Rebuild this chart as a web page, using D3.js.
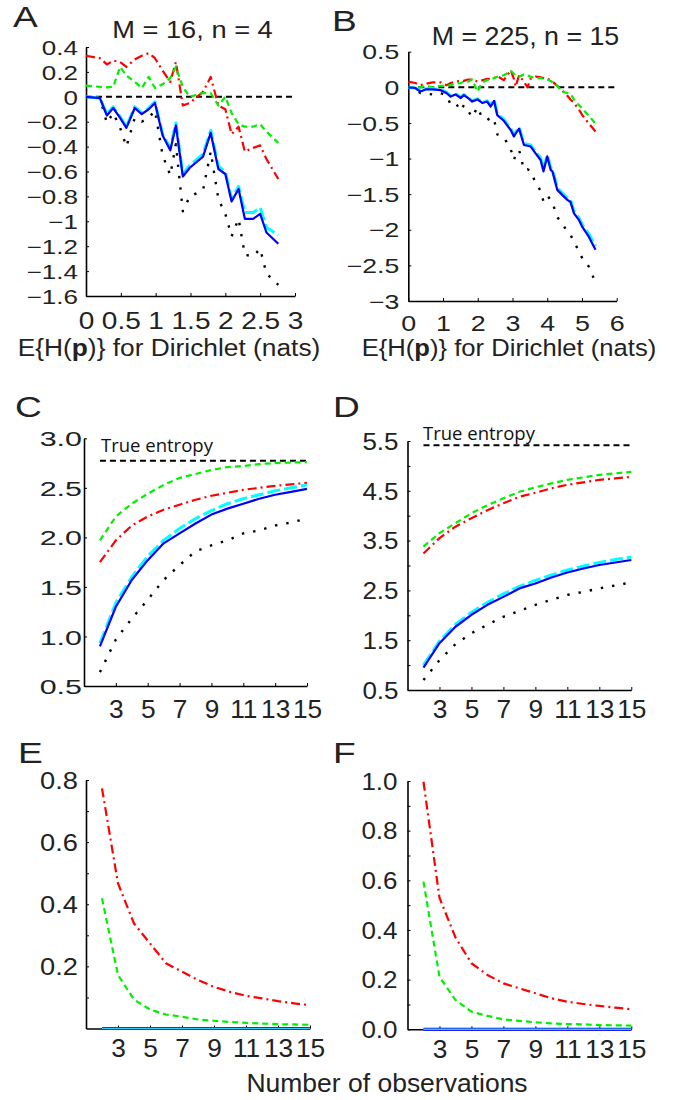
<!DOCTYPE html>
<html><head><meta charset="utf-8">
<script src="https://cdn.jsdelivr.net/npm/d3@7"></script>
<style>
body{margin:0;background:#fff}
svg{display:block}
text{font-family:"Liberation Sans",Arial,Helvetica,sans-serif;fill:#222}
</style>
</head><body>
<svg id="fig" width="688" height="1100"></svg>
<script>
// ---------------- DATA ----------------
// Panel A: M = 16, n = 4 (bias vs expected entropy of Dirichlet)
const xA     = [0, 0.2, 0.3, 0.39, 0.49, 0.58, 0.70, 0.80, 0.90, 0.99, 1.10, 1.21, 1.29, 1.39, 1.49, 1.68, 1.79, 1.90, 2.00, 2.09, 2.19, 2.28, 2.40, 2.50, 2.59, 2.76];
const aBlue  = [0, -0.01, -0.15, -0.09, -0.17, -0.25, -0.09, -0.14, -0.10, -0.05, -0.31, -0.43, -0.23, -0.64, -0.57, -0.48, -0.29, -0.58, -0.62, -0.84, -0.74, -0.98, -0.98, -0.94, -1.09, -1.18];
const aCyan  = [0, -0.01, -0.14, -0.08, -0.16, -0.24, -0.08, -0.13, -0.09, -0.04, -0.30, -0.41, -0.21, -0.62, -0.55, -0.46, -0.27, -0.56, -0.60, -0.82, -0.72, -0.93, -0.93, -0.89, -1.05, -1.11];
const aBlack = [0, -0.01, -0.21, -0.13, -0.25, -0.40, -0.17, -0.20, -0.17, -0.11, -0.47, -0.63, -0.38, -0.92, -0.80, -0.75, -0.44, -0.82, -0.94, -1.12, -0.98, -1.27, -1.28, -1.22, -1.42, -1.51];
const aRed   = [0.33, 0.31, 0.26, 0.29, 0.28, 0.24, 0.30, 0.33, 0.35, 0.31, 0.21, 0.12, 0.28, -0.07, -0.05, 0.04, 0.16, -0.07, -0.10, -0.30, -0.24, -0.44, -0.41, -0.39, -0.50, -0.66];
const aGreen = [0.09, 0.08, 0.075, 0.08, 0.24, 0.17, 0.12, 0.07, 0.16, 0.07, 0.10, 0.15, 0.24, 0.08, 0.0, 0.03, 0.03, -0.07, 0.0, -0.13, -0.22, -0.24, -0.24, -0.22, -0.28, -0.37];

// Panel B: M = 225, n = 15
const xB     = [0, 0.2, 0.35, 0.5, 0.7, 0.93, 1.1, 1.22, 1.36, 1.51, 1.6, 1.72, 1.84, 1.99, 2.13, 2.27, 2.37, 2.47, 2.56, 2.75, 2.95, 3.04, 3.09, 3.19, 3.33, 3.43, 3.52, 3.67, 3.81, 3.89, 4.0, 4.1, 4.15, 4.29, 4.43, 4.58, 4.67, 4.77, 4.91, 5.01, 5.2, 5.39];
const bBlue  = [0, -0.01, -0.06, -0.03, -0.03, -0.04, -0.08, -0.13, -0.10, -0.15, -0.11, -0.15, -0.20, -0.17, -0.22, -0.20, -0.27, -0.19, -0.39, -0.47, -0.60, -0.69, -0.65, -0.58, -0.81, -0.82, -0.83, -0.93, -1.02, -1.18, -0.97, -1.16, -1.18, -1.44, -1.51, -1.58, -1.61, -1.77, -1.86, -1.96, -2.10, -2.28];
const bCyan  = [0, -0.01, -0.05, -0.02, -0.02, -0.03, -0.07, -0.12, -0.09, -0.14, -0.10, -0.14, -0.19, -0.16, -0.21, -0.19, -0.25, -0.17, -0.37, -0.45, -0.58, -0.67, -0.63, -0.56, -0.79, -0.80, -0.81, -0.91, -0.99, -1.15, -0.95, -1.13, -1.15, -1.41, -1.48, -1.55, -1.58, -1.74, -1.83, -1.93, -2.06, -2.23];
const bBlack = [0, -0.04, -0.08, -0.09, -0.10, -0.08, -0.12, -0.24, -0.22, -0.33, -0.25, -0.33, -0.42, -0.28, -0.43, -0.43, -0.48, -0.45, -0.66, -0.70, -0.87, -1.02, -0.95, -0.88, -1.16, -1.15, -1.17, -1.35, -1.45, -1.60, -1.52, -1.58, -1.62, -1.82, -1.92, -2.02, -2.07, -2.17, -2.30, -2.40, -2.52, -2.74];
const bRed   = [0.08, 0.06, 0.03, 0.05, 0.07, 0.07, 0.03, 0.06, 0.08, 0.09, 0.09, 0.11, 0.11, 0.08, 0.10, 0.12, 0.12, 0.13, 0.16, 0.10, 0.24, 0.12, 0.01, 0.17, 0.08, 0.0, 0.12, 0.15, 0.14, 0.13, 0.12, 0.10, 0.08, 0.02, -0.04, -0.12, -0.17, -0.22, -0.31, -0.39, -0.51, -0.62];
const bGreen = [0.0, 0.0, 0.0, 0.02, 0.0, 0.02, 0.02, 0.03, 0.05, 0.06, 0.08, 0.08, 0.11, -0.06, 0.07, 0.10, 0.11, 0.13, 0.15, 0.17, 0.23, 0.19, 0.16, 0.15, 0.18, 0.17, 0.15, 0.13, 0.13, 0.12, 0.11, 0.09, 0.07, 0.02, -0.06, -0.08, -0.09, -0.17, -0.25, -0.30, -0.40, -0.51];

// Panels C-F: number of observations
const nObs   = [2, 3, 4, 5, 6, 7, 8, 9, 10, 11, 12, 13, 14, 15];
const cBlue  = [0.90, 1.30, 1.57, 1.77, 1.94, 2.04, 2.14, 2.23, 2.29, 2.34, 2.39, 2.43, 2.46, 2.49];
const cCyan  = [0.93, 1.34, 1.60, 1.81, 1.97, 2.09, 2.19, 2.27, 2.34, 2.39, 2.43, 2.47, 2.50, 2.53];
const cGreen = [1.97, 2.21, 2.34, 2.44, 2.53, 2.60, 2.64, 2.68, 2.71, 2.72, 2.74, 2.75, 2.755, 2.76];
const cRed   = [1.75, 1.97, 2.12, 2.21, 2.28, 2.33, 2.38, 2.42, 2.45, 2.48, 2.50, 2.52, 2.535, 2.55];
const cBlack = [0.64, 0.97, 1.18, 1.37, 1.57, 1.72, 1.86, 1.92, 1.97, 2.04, 2.07, 2.12, 2.15, 2.19];
const cTrue  = 2.7726;

const dBlue  = [0.95, 1.44, 1.77, 2.01, 2.21, 2.37, 2.54, 2.64, 2.76, 2.86, 2.94, 3.01, 3.06, 3.11];
const dCyan  = [1.00, 1.48, 1.82, 2.06, 2.26, 2.43, 2.58, 2.70, 2.81, 2.91, 2.99, 3.06, 3.12, 3.17];
const dGreen = [3.38, 3.65, 3.85, 4.05, 4.21, 4.35, 4.48, 4.57, 4.65, 4.72, 4.77, 4.82, 4.85, 4.88];
const dRed   = [3.24, 3.55, 3.78, 3.95, 4.11, 4.25, 4.38, 4.46, 4.55, 4.62, 4.67, 4.72, 4.75, 4.78];
const dBlack = [0.70, 1.10, 1.42, 1.64, 1.81, 1.97, 2.09, 2.21, 2.31, 2.41, 2.47, 2.54, 2.60, 2.66];
const dTrue  = 5.416;

const eRed   = [0.773, 0.467, 0.338, 0.274, 0.21, 0.183, 0.156, 0.134, 0.118, 0.105, 0.097, 0.088, 0.081, 0.075];
const eGreen = [0.419, 0.172, 0.093, 0.061, 0.045, 0.038, 0.029, 0.025, 0.021, 0.018, 0.016, 0.014, 0.013, 0.012];
const eBlue  = [0, 0, 0, 0, 0, 0, 0, 0, 0, 0, 0, 0, 0, 0];
const eCyan  = [0, 0, 0, 0, 0, 0, 0, 0, 0, 0, 0, 0, 0, 0];

const fRed   = [0.997, 0.53, 0.37, 0.266, 0.219, 0.185, 0.165, 0.145, 0.125, 0.111, 0.102, 0.094, 0.087, 0.081];
const fGreen = [0.595, 0.212, 0.118, 0.071, 0.054, 0.040, 0.034, 0.028, 0.024, 0.021, 0.020, 0.017, 0.016, 0.015];
const fBlue  = [0, 0, 0, 0, 0, 0, 0, 0, 0, 0, 0, 0, 0, 0];
const fCyan  = [0, 0, 0, 0, 0, 0, 0, 0, 0, 0, 0, 0, 0, 0];

// ticks
const ticksAx = [0, 0.5, 1, 1.5, 2, 2.5, 3];
const ticksAy = [-1.6, -1.4, -1.2, -1, -0.8, -0.6, -0.4, -0.2, 0, 0.2, 0.4];
const ticksBx = [0, 1, 2, 3, 4, 5, 6];
const ticksBy = [-3, -2.5, -2, -1.5, -1, -0.5, 0, 0.5];
const ticksObs = [3, 5, 7, 9, 11, 13, 15];
const ticksCy = [0.5, 1.0, 1.5, 2.0, 2.5, 3.0];
const ticksDy = [0.5, 1, 1.5, 2, 2.5, 3, 3.5, 4, 4.5, 5, 5.5];
const labelsDy = [0.5, 1.5, 2.5, 3.5, 4.5, 5.5];
const ticksEy = [0.1, 0.2, 0.3, 0.4, 0.5, 0.6, 0.7, 0.8];
const labelsEy = [0.2, 0.4, 0.6, 0.8];
const ticksFy = [0, 0.1, 0.2, 0.3, 0.4, 0.5, 0.6, 0.7, 0.8, 0.9, 1.0];
const labelsFy = [0, 0.2, 0.4, 0.6, 0.8, 1.0];

// ---------------- DRAW ----------------
const svg = d3.select('#fig');
const FONT = '"Liberation Sans",Arial,Helvetica,sans-serif';

const matFmt = v => v === 0 ? '0' : (v < 0 ? '\u2212' : '') + String(+Math.abs(v).toFixed(1));
const fix1 = v => v.toFixed(1);
const onlyIn = (arr, f) => v => arr.some(a => Math.abs(a - v) < 1e-9) ? f(v) : '';

const styles = {
  zero:  {stroke: '#000', width: 2, dash: '6,4'},
  black: {stroke: '#000', width: 2.4, dash: '2.4,9'},
  red:   {stroke: '#ff0000', width: 2.2, dash: '9,4,2,4'},
  green: {stroke: '#00f000', width: 2.2, dash: '6,4'},
  cyan:  {stroke: '#00ffff', width: 3, dash: '13,4'},
  blue:  {stroke: '#0000ff', width: 2.2, dash: null}
};

function sText(x, y, str, size, sx, anchor) {
  return svg.append('text')
    .attr('transform', `translate(${x},${y}) scale(${sx},1)`)
    .attr('font-size', size).attr('text-anchor', anchor || 'start').text(str);
}

function panel(o) {
  const g = svg.append('g');
  const x = d3.scaleLinear().domain(o.xDom).range(o.xRange);
  const y = d3.scaleLinear().domain(o.yDom).range(o.yRange);

  // axes (drawn first so that the curves sit on top)
  const ax = d3.axisBottom(x).tickValues(o.xTicks).tickFormat(o.xFmt)
    .tickSizeInner(-3).tickSizeOuter(0).tickPadding(0);
  const gx = g.append('g').attr('transform', `translate(0,${o.yRange[0]})`).call(ax);
  gx.select('.domain').attr('stroke', '#000').attr('stroke-width', 1.6);
  gx.selectAll('.tick line').attr('stroke', '#000').attr('stroke-width', 1);
  gx.selectAll('.tick text').attr('y', null).attr('dy', null)
    .attr('font-family', FONT).attr('font-size', o.xFont).attr('fill', '#222')
    .attr('transform', `translate(0,${o.xBase}) scale(${o.xSx},1)`);

  const ay = d3.axisLeft(y).tickValues(o.yTicks).tickFormat(o.yFmt)
    .tickSizeInner(-3).tickSizeOuter(0).tickPadding(0);
  const gy = g.append('g').attr('transform', `translate(${o.xRange[0]},0)`).call(ay);
  gy.select('.domain').attr('stroke', '#000').attr('stroke-width', 1.6);
  gy.selectAll('.tick line').attr('stroke', '#000').attr('stroke-width', 1);
  gy.selectAll('.tick text').attr('x', null).attr('dy', '0.36em')
    .attr('font-family', FONT).attr('font-size', o.yFont).attr('fill', '#222')
    .attr('transform', `translate(${-o.yGap},0) scale(${o.ySx},1)`);

  // series
  const line = d3.line().x(d => x(d[0])).y(d => y(d[1]));
  o.series.forEach(s => {
    const st = styles[s.style];
    g.append('path').datum(d3.zip(s.x, s.y))
      .attr('d', line).attr('fill', 'none')
      .attr('stroke', s.color || st.stroke).attr('stroke-width', s.width || st.width)
      .attr('stroke-dasharray', s.dash !== undefined ? s.dash : st.dash)
      .attr('stroke-linejoin', 'round');
  });
  return {x, y, g};
}

const sA = [
  {x: [0, 3], y: [0, 0], style: 'zero'},
  {x: xA, y: aBlack, style: 'black'},
  {x: xA, y: aRed, style: 'red'},
  {x: xA, y: aGreen, style: 'green'},
  {x: xA, y: aCyan, style: 'cyan'},
  {x: xA, y: aBlue, style: 'blue'}
];
panel({xDom: [0, 3], xRange: [86, 295], yDom: [-1.6, 0.4], yRange: [296, 47],
  xTicks: ticksAx, xFmt: matFmt, xFont: 23, xSx: 1.22, xBase: 33,
  yTicks: ticksAy, yFmt: matFmt, yFont: 20, ySx: 1.3, yGap: 8, series: sA});

const sB = [
  {x: [0, 6], y: [0, 0], style: 'zero'},
  {x: xB, y: bBlack, style: 'black'},
  {x: xB, y: bRed, style: 'red'},
  {x: xB, y: bGreen, style: 'green'},
  {x: xB, y: bCyan, style: 'cyan'},
  {x: xB, y: bBlue, style: 'blue'}
];
panel({xDom: [0, 6], xRange: [408.3, 616.7], yDom: [-3, 0.5], yRange: [301, 51.7],
  xTicks: ticksBx, xFmt: matFmt, xFont: 22, xSx: 1.22, xBase: 30,
  yTicks: ticksBy, yFmt: matFmt, yFont: 20, ySx: 1.33, yGap: 9, series: sB});

const sC = [
  {x: [2, 15], y: [cTrue, cTrue], style: 'zero'},
  {x: nObs, y: cBlack, style: 'black'},
  {x: nObs, y: cRed, style: 'red'},
  {x: nObs, y: cGreen, style: 'green'},
  {x: nObs, y: cCyan, style: 'cyan'},
  {x: nObs, y: cBlue, style: 'blue'}
];
panel({xDom: [1, 15], xRange: [84, 307], yDom: [0.5, 3], yRange: [686, 438.3],
  xTicks: ticksObs, xFmt: d3.format('d'), xFont: 25, xSx: 1.05, xBase: 32,
  yTicks: ticksCy, yFmt: fix1, yFont: 21, ySx: 1.45, yGap: 2, series: sC});

const sD = [
  {x: [2, 15], y: [dTrue, dTrue], style: 'zero'},
  {x: nObs, y: dBlack, style: 'black'},
  {x: nObs, y: dRed, style: 'red'},
  {x: nObs, y: dGreen, style: 'green'},
  {x: nObs, y: dCyan, style: 'cyan'},
  {x: nObs, y: dBlue, style: 'blue'}
];
panel({xDom: [1, 15], xRange: [407.5, 631.3], yDom: [0.5, 5.5], yRange: [690, 441],
  xTicks: ticksObs, xFmt: d3.format('d'), xFont: 25, xSx: 1.05, xBase: 28,
  yTicks: ticksDy, yFmt: onlyIn(labelsDy, fix1), yFont: 23, ySx: 1.13, yGap: 9, series: sD});

const sE = [
  {x: nObs, y: eRed, style: 'red'},
  {x: nObs, y: eGreen, style: 'green'},
  {x: nObs, y: eBlue, style: 'blue', width: 3},
  {x: nObs, y: eCyan, style: 'cyan', width: 1.6, dash: null, color: '#33ccff'}
];
panel({xDom: [1, 15], xRange: [86, 310], yDom: [0, 0.8], yRange: [1028.5, 780],
  xTicks: ticksObs, xFmt: d3.format('d'), xFont: 25, xSx: 1.05, xBase: 28.5,
  yTicks: ticksEy, yFmt: onlyIn(labelsEy, fix1), yFont: 23.5, ySx: 1.16, yGap: 8, series: sE});

const sF = [
  {x: nObs, y: fRed, style: 'red'},
  {x: nObs, y: fGreen, style: 'green'},
  {x: nObs, y: fBlue, style: 'blue', width: 3},
  {x: nObs, y: fCyan, style: 'cyan', width: 1.6, dash: null, color: '#33ccff'}
];
panel({xDom: [1, 15], xRange: [407.5, 631.3], yDom: [0, 1], yRange: [1029.3, 781],
  xTicks: ticksObs, xFmt: d3.format('d'), xFont: 25, xSx: 1.05, xBase: 29,
  yTicks: ticksFy, yFmt: onlyIn(labelsFy, fix1), yFont: 23, ySx: 1.13, yGap: 10, series: sF});

// titles & labels
sText(192.5, 38, 'M = 16, n = 4', 23.5, 1.16, 'middle');
sText(525.5, 45, 'M = 225, n = 15', 26, 1.03, 'middle');

function xlab(cx, y, sx) {
  const t = svg.append('text').attr('transform', `translate(${cx},${y}) scale(${sx},1)`)
    .attr('font-size', 23.5).attr('text-anchor', 'middle');
  t.append('tspan').text('E{H(');
  t.append('tspan').attr('font-weight', 'bold').text('p');
  t.append('tspan').text(')} for Dirichlet (nats)');
}
xlab(169, 356, 1.12);
xlab(509, 356, 1.09);

svg.append('text').attr('x', 101).attr('y', 452).attr('font-size', 18.5)
  .style('font-family', '"Open Sans",sans-serif').style('fill', '#111').text('True entropy');
svg.append('text').attr('x', 423).attr('y', 440).attr('font-size', 18.5)
  .style('font-family', '"Open Sans",sans-serif').style('fill', '#111').text('True entropy');

sText(387, 1092, 'Number of observations', 25, 1.06, 'middle');

const letters = [['A', 13, 27], ['B', 332, 31], ['C', 15, 417], ['D', 333, 417], ['E', 18, 763], ['F', 333, 763]];
letters.forEach(([s, x, y]) => sText(x, y, s, 29, 1.28, 'start'));
</script>
</body></html>
